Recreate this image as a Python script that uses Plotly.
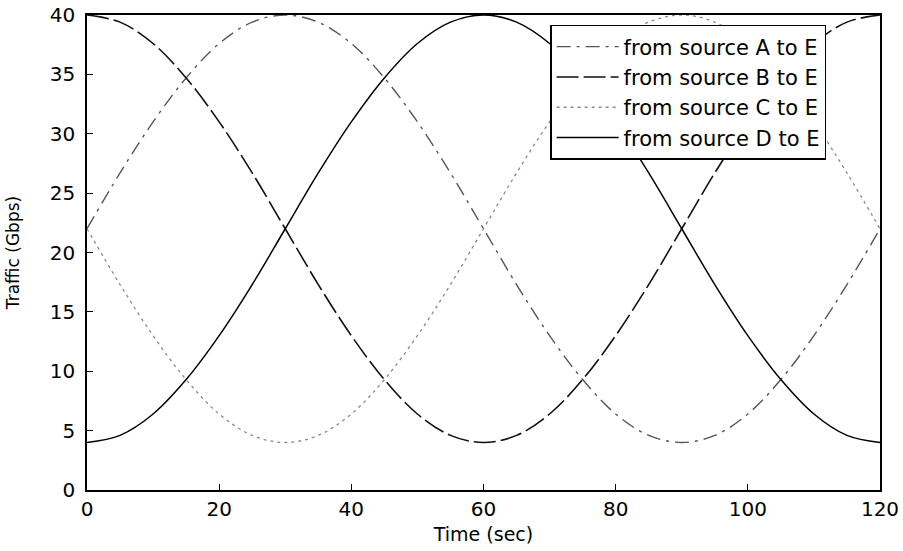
import plotly.graph_objects as go

time_sec = [0, 5, 10, 15, 20, 25, 30, 35, 40, 45, 50, 55, 60,
            65, 70, 75, 80, 85, 90, 95, 100, 105, 110, 115, 120]

traffic_a = [22.0, 26.7, 31.0, 34.7, 37.6, 39.4, 40.0, 39.4, 37.6, 34.7, 31.0, 26.7, 22.0,
             17.3, 13.0, 9.3, 6.4, 4.6, 4.0, 4.6, 6.4, 9.3, 13.0, 17.3, 22.0]
traffic_b = [40.0, 39.4, 37.6, 34.7, 31.0, 26.7, 22.0, 17.3, 13.0, 9.3, 6.4, 4.6, 4.0,
             4.6, 6.4, 9.3, 13.0, 17.3, 22.0, 26.7, 31.0, 34.7, 37.6, 39.4, 40.0]
traffic_c = [22.0, 17.3, 13.0, 9.3, 6.4, 4.6, 4.0, 4.6, 6.4, 9.3, 13.0, 17.3, 22.0,
             26.7, 31.0, 34.7, 37.6, 39.4, 40.0, 39.4, 37.6, 34.7, 31.0, 26.7, 22.0]
traffic_d = [4.0, 4.6, 6.4, 9.3, 13.0, 17.3, 22.0, 26.7, 31.0, 34.7, 37.6, 39.4, 40.0,
             39.4, 37.6, 34.7, 31.0, 26.7, 22.0, 17.3, 13.0, 9.3, 6.4, 4.6, 4.0]

series_names = ["from source A to E", "from source B to E",
                "from source C to E", "from source D to E"]
x_ticks = [0, 20, 40, 60, 80, 100, 120]
y_ticks = [0, 5, 10, 15, 20, 25, 30, 35, 40]

styles = [
    dict(color="#555555", dash="14px,6px,3px,6px", width=1.4),
    dict(color="#111111", dash="22px,5px", width=1.6),
    dict(color="#8a8a8a", dash="3px,4px", width=1.3),
    dict(color="#000000", dash="solid", width=1.5),
]

fig = go.Figure()
for name, ys, st in zip(series_names, [traffic_a, traffic_b, traffic_c, traffic_d], styles):
    fig.add_trace(go.Scatter(x=time_sec, y=ys, mode="lines", name=name,
                             line=dict(shape="spline", smoothing=1.0, **st)))

font_main = "DejaVu Sans, Liberation Sans, Arial, sans-serif"

fig.update_layout(
    width=903, height=551,
    margin=dict(l=87, r=23, t=15, b=61),
    paper_bgcolor="white", plot_bgcolor="white",
    font=dict(family=font_main, size=20, color="black"),
    showlegend=True,
    legend=dict(x=0.584, y=0.979, xanchor="left", yanchor="top",
                bgcolor="white", bordercolor="black", borderwidth=1.5,
                font=dict(family=font_main, size=21, color="black"),
                tracegroupgap=0, itemwidth=62),
)
fig.update_xaxes(range=[0, 120], tickvals=x_ticks, ticktext=[str(v) for v in x_ticks],
                 showline=True, mirror=True, linecolor="black", linewidth=1.5,
                 ticks="inside", ticklen=6, tickcolor="black", tickwidth=1.3,
                 showgrid=False, zeroline=False, automargin=False,
                 ticklabeloverflow="allow",
                 tickfont=dict(size=20),
                 title=dict(text="Time (sec)", font=dict(size=19), standoff=8))
fig.update_yaxes(range=[0, 40], tickvals=y_ticks, ticktext=[str(v) for v in y_ticks],
                 showline=True, mirror=True, linecolor="black", linewidth=1.5,
                 ticks="inside", ticklen=6, tickcolor="black", tickwidth=1.3,
                 showgrid=False, zeroline=False, automargin=False,
                 ticklabeloverflow="allow", ticklabelstandoff=6,
                 tickfont=dict(size=20),
                 title=dict(text="Traffic (Gbps)", font=dict(size=17), standoff=26))

fig.write_html(
    "out.html",
    config={"displayModeBar": False},
    post_script="document.body.style.margin='0';document.body.style.overflow='hidden';",
)
